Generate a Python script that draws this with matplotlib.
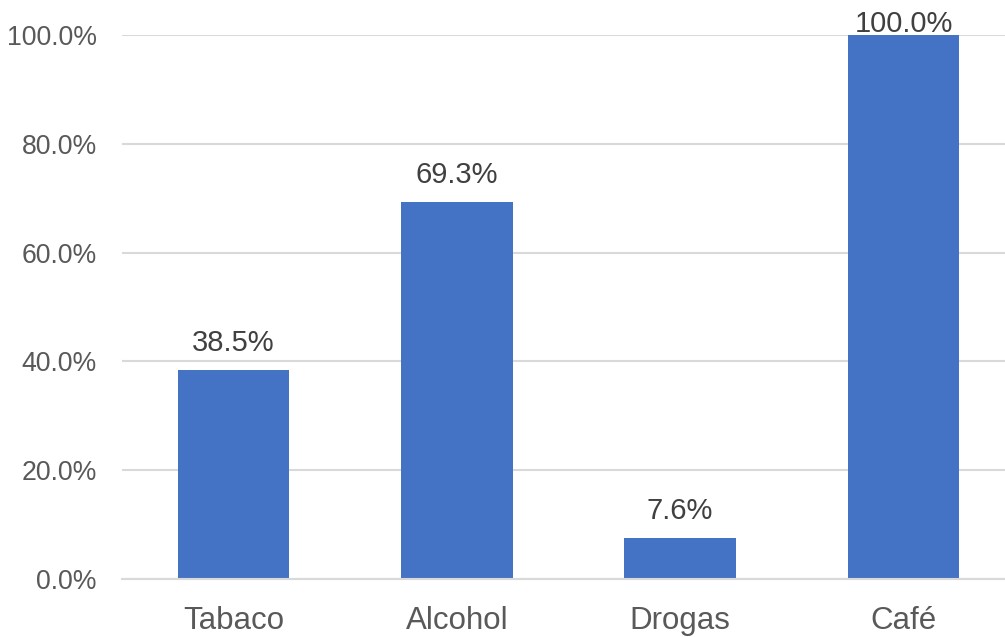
import matplotlib
matplotlib.use("Agg")
import matplotlib.pyplot as plt
from matplotlib.ticker import FuncFormatter

categories = ["Tabaco", "Alcohol", "Drogas", "Café"]
values = [38.5, 69.3, 7.6, 100.0]
yticks = [0, 20, 40, 60, 80, 100]

plt.rcParams['font.family'] = ['Liberation Sans', 'DejaVu Sans']

fig = plt.figure(figsize=(10.05, 6.37), dpi=100)
ax = fig.add_axes([121.8/1005, (637-579)/637, (1015.2-121.8)/1005, 544/637])

x = range(len(categories))
bars = ax.bar(x, values, width=0.5, color="#4472C4", zorder=3)
ax.set_xlim(-0.5, len(categories) - 0.5)
ax.set_ylim(0, 100)
ax.set_yticks(yticks)
ax.yaxis.set_major_formatter(FuncFormatter(lambda v, p: f"{v:.1f}%"))
ax.set_xticks(list(x))
ax.set_xticklabels(categories)

for s in ["top", "right", "left"]:
    ax.spines[s].set_visible(False)
ax.spines["bottom"].set_color("#D9D9D9")
ax.spines["bottom"].set_linewidth(1.5)
ax.spines["bottom"].set_zorder(4)
ax.grid(axis="y", color="#D9D9D9", linewidth=1.5, zorder=0)
ax.tick_params(axis="y", length=0, pad=18, labelsize=19.2, labelcolor="#595959")
ax.tick_params(axis="x", length=0, pad=19.5, labelsize=22.5, labelcolor="#595959")

for xi, v in zip(x, values):
    off = 13.7 if v < 95 else 2.2
    ax.annotate(f"{v:.1f}%", (xi, v), xytext=(0, off), textcoords="offset points",
                ha="center", va="baseline", fontsize=21, color="#404040",
                annotation_clip=False)

fig.savefig("out.png", dpi=100)
